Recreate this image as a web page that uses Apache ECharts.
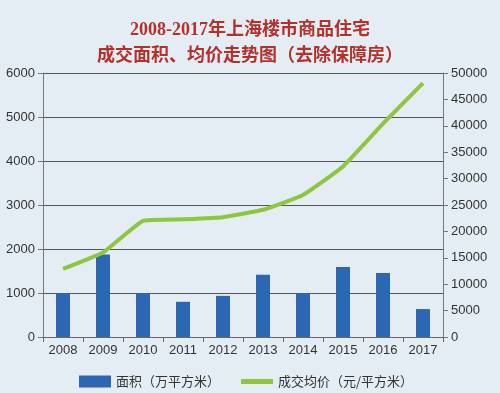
<!DOCTYPE html>
<html><head><meta charset="utf-8">
<script src="https://cdn.jsdelivr.net/npm/echarts@6/dist/echarts.min.js"></script>
<style>html,body{margin:0;padding:0;background:#e4edf3;}#c{width:500px;height:393px;}</style>
</head><body><div id="c"></div>
<script>
const years = ['2008','2009','2010','2011','2012','2013','2014','2015','2016','2017'];
const area = [1000, 1875, 1000, 800, 935, 1415, 1000, 1590, 1455, 635];
const price = [12900, 16000, 22000, 22300, 22700, 24100, 26900, 32300, 40400, 48100];
const leftTicks = [0, 6000, 1000];
const rightTicks = [0, 50000, 5000];
const titleText = '2008-2017年上海楼市商品住宅\n成交面积、均价走势图（去除保障房）';
const areaName = '面积（万平方米）';
const priceName = '成交均价（元/平方米）';

const chart = echarts.init(document.getElementById('c'), null, {renderer:'canvas'});
const axisTxt = {color:'#333', fontSize:13, fontFamily:'"Liberation Sans", Arial, sans-serif', formatter:v=>String(v)};
const legendTxt = {color:'#333', fontSize:13, fontFamily:'"Noto Sans CJK SC", sans-serif'};
chart.setOption({
  backgroundColor:'#e4edf3',
  animation:false,
  title:{
    text:titleText, left:'center', top:12,
    textStyle:{color:'#b3302b', fontSize:18, fontWeight:'bold', lineHeight:26,
      fontFamily:'"Liberation Serif", "DejaVu Serif", "Noto Sans CJK SC", serif'}
  },
  legend:[{
    left:79, top:375, padding:0, itemWidth:32, itemHeight:12, icon:'rect',
    textStyle:legendTxt, data:[areaName]
  },{
    left:241, top:375, padding:0, itemWidth:32, itemHeight:5, icon:'rect',
    textStyle:legendTxt, data:[priceName]
  }],
  grid:{left:43, right:57, top:73, bottom:56},
  xAxis:{
    type:'category', data:years, boundaryGap:true,
    axisLine:{lineStyle:{color:'#666', width:1}},
    axisTick:{show:true, lineStyle:{color:'#666'}, length:5},
    axisLabel:Object.assign({}, axisTxt, {margin:7})
  },
  yAxis:[{
    type:'value', min:leftTicks[0], max:leftTicks[1], interval:leftTicks[2],
    axisLine:{show:true, lineStyle:{color:'#777'}},
    axisTick:{show:true, length:5, lineStyle:{color:'#777'}},
    axisLabel:Object.assign({}, axisTxt, {margin:8}),
    splitLine:{show:true, lineStyle:{color:'#555', width:1}}
  },{
    type:'value', min:rightTicks[0], max:rightTicks[1], interval:rightTicks[2],
    axisLine:{show:true, lineStyle:{color:'#777'}},
    axisTick:{show:true, length:5, lineStyle:{color:'#777'}},
    axisLabel:Object.assign({}, axisTxt, {margin:8}),
    splitLine:{show:false}
  }],
  series:[{
    name:areaName, type:'bar', data:area, barWidth:14,
    itemStyle:{color:'#2b67b2'}
  },{
    name:priceName, type:'line', yAxisIndex:1, data:price, smooth:0.12,
    symbol:'none', lineStyle:{color:'#8dc640', width:4}, itemStyle:{color:'#8dc640'}
  }]
});
</script></body></html>
